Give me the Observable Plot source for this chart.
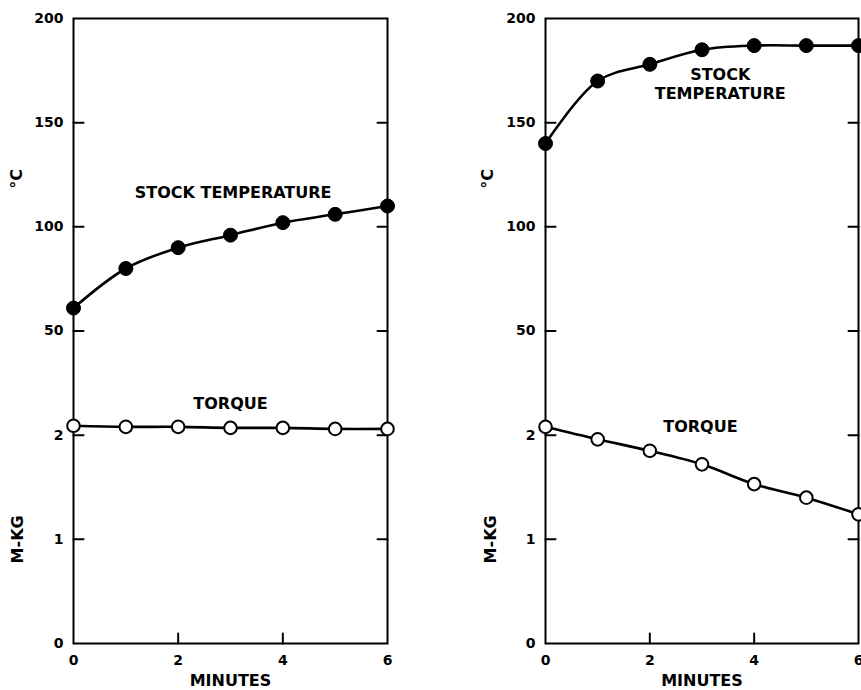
<!DOCTYPE html>
<html><head><meta charset="utf-8">
<script src="https://cdn.jsdelivr.net/npm/d3@7"></script>
<script src="https://cdn.jsdelivr.net/npm/@observablehq/plot@0.6"></script>
<style>
body{margin:0;background:#fff;}
#wrap{display:flex;width:861px;height:690px;overflow:hidden;background:#fff;}
#wrap svg{flex:none;}
</style></head><body><div id="wrap"></div>
<script>
// Data
const minutes = [0, 1, 2, 3, 4, 5, 6];
const tempLeft = [61, 80, 90, 96, 102, 106, 110];        // °C
const torqueLeft = [2.09, 2.08, 2.08, 2.07, 2.07, 2.06, 2.06]; // M-KG
const tempRight = [140, 170, 178, 185, 187, 187, 187];   // °C
const torqueRight = [2.08, 1.96, 1.85, 1.72, 1.53, 1.40, 1.24]; // M-KG
const tempTicks = [50, 100, 150, 200];
const torqueTicks = [0, 1, 2];
const xTickLabels = [0, 2, 4, 6];
const xInnerTicks = [2, 4];

// Torque shares the vertical axis with temperature: 1 M-KG = 50 °C, 2 M-KG at 0 °C
const torqueToAxis = t => (t - 2) * 50;
const axisToLabel = v => v >= 50 ? String(v) : String(v / 50 + 2);

const FONT = "DejaVu Sans";
const tickShape = {draw(context, l) { context.moveTo(0, 0); context.lineTo(0, -l); }};

function panel({width, marginLeft, marginRight, temp, torque, labels}) {
  const tempData = minutes.map((m, i) => ({m, v: temp[i]}));
  const torqueData = minutes.map((m, i) => ({m, v: torqueToAxis(torque[i])}));
  const yVals = [...torqueTicks.map(torqueToAxis), ...tempTicks];
  const innerY = yVals.filter(v => v > -100 && v < 200);
  return Plot.plot({
    width, height: 690,
    marginLeft, marginRight, marginTop: 18, marginBottom: 47,
    style: {fontFamily: FONT, fontWeight: "bold", fontSize: "14px", color: "black", background: "white"},
    x: {domain: [0, 6]},
    y: {domain: [-100, 200]},
    marks: [
      Plot.frame({stroke: "black", strokeWidth: 2}),
      Plot.axisY({ticks: yVals, tickSize: 0, tickPadding: 10, tickFormat: axisToLabel, fontSize: 14, fontWeight: "bold", label: null}),
      Plot.axisX({ticks: xTickLabels, tickSize: 0, tickPadding: 12, tickFormat: d => String(d), fontSize: 14, fontWeight: "bold", label: null}),
      Plot.vector(innerY, {x: 0, y: d => d, rotate: 90, length: 10, anchor: "start", shape: tickShape, strokeWidth: 2}),
      Plot.vector(innerY, {x: 6, y: d => d, rotate: -90, length: 10, anchor: "start", shape: tickShape, strokeWidth: 2}),
      Plot.vector(xInnerTicks, {x: d => d, y: -100, rotate: 0, length: 10, anchor: "start", shape: tickShape, strokeWidth: 2}),
      Plot.line(tempData, {x: "m", y: "v", curve: "catmull-rom", strokeWidth: 2.6}),
      Plot.line(torqueData, {x: "m", y: "v", curve: "catmull-rom", strokeWidth: 2.6}),
      Plot.dot(tempData, {x: "m", y: "v", r: 7, fill: "black", stroke: "black", strokeWidth: 1}),
      Plot.dot(torqueData, {x: "m", y: "v", r: 6.3, fill: "white", stroke: "black", strokeWidth: 2}),
      Plot.text([labels.temp.text], {x: labels.temp.x, y: labels.temp.y, fontSize: 16, fontWeight: "bold", lineHeight: 1.2}),
      Plot.text(["TORQUE"], {x: labels.torque.x, y: labels.torque.y, fontSize: 16, fontWeight: "bold"}),
      Plot.text(["°C"], {x: 0, y: 123, dx: labels.degDx, rotate: -90, fontSize: 16, fontWeight: "bold"}),
      Plot.text(["M-KG"], {x: 0, y: -50, dx: labels.mkgDx, rotate: -90, fontSize: 16, fontWeight: "bold"}),
      Plot.text(["MINUTES"], {x: 3, y: -100, dy: 37, fontSize: 16, fontWeight: "bold"})
    ]
  });
}

const wrap = document.getElementById("wrap");
wrap.appendChild(panel({
  width: 430, marginLeft: 73, marginRight: 43,
  temp: tempLeft, torque: torqueLeft,
  labels: {
    temp: {text: "STOCK TEMPERATURE", x: 3.05, y: 117},
    torque: {x: 3.0, y: 15},
    degDx: -57, mkgDx: -56
  }
}));
wrap.appendChild(panel({
  width: 431, marginLeft: 115, marginRight: 3,
  temp: tempRight, torque: torqueRight,
  labels: {
    temp: {text: "STOCK\nTEMPERATURE", x: 3.35, y: 169},
    torque: {x: 2.97, y: 4},
    degDx: -58, mkgDx: -55
  }
}));
</script></body></html>
